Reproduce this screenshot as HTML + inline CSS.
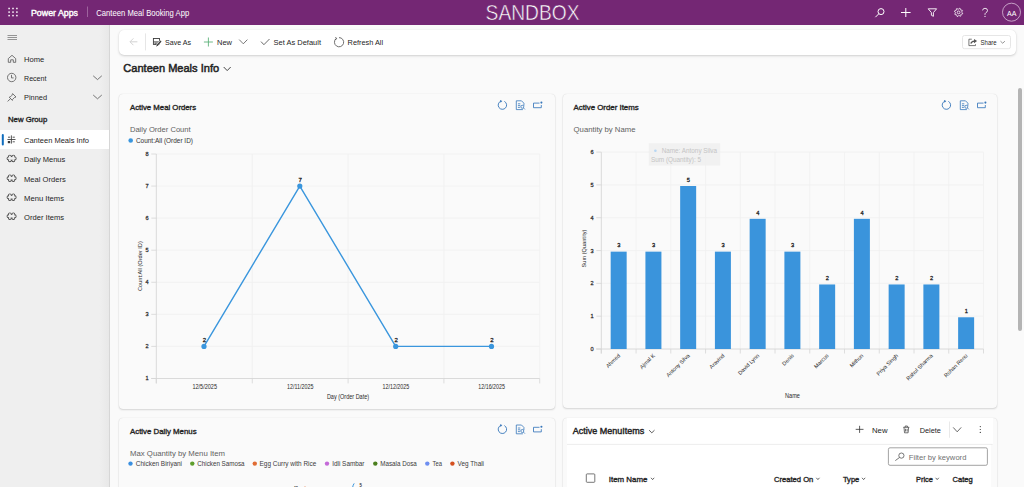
<!DOCTYPE html>
<html><head><meta charset="utf-8"><title>Canteen Meals Info</title>
<style>
html,body{margin:0;padding:0;width:1024px;height:487px;overflow:hidden;background:#fafafa;font-family:"Liberation Sans",sans-serif;}
.abs{position:absolute;box-sizing:border-box;}
#hdr{left:0;top:0;width:1024px;height:25px;background:#742774;}
#side{left:0;top:25px;width:110px;height:462px;background:linear-gradient(to right,#efefef 0,#efefef 99px,#e8e8e8 109px);border-right:1px solid #d6d6d6;}
#cmd{left:119px;top:29.5px;width:897px;height:25px;background:#fff;border-radius:5px;box-shadow:0 1px 2.5px rgba(0,0,0,0.17),0 0 1px rgba(0,0,0,0.10);}
.card{background:#fafafa;border-radius:4px;box-shadow:0 1px 2px rgba(0,0,0,0.14),0 0 1px rgba(0,0,0,0.16);}
svg{position:absolute;left:0;top:0;}
text{font-family:"Liberation Sans",sans-serif;}
</style></head><body>
<div class="abs" id="hdr"></div>
<div class="abs" id="side"></div>
<div class="abs" id="cmd"></div>
<div class="abs card" style="left:119px;top:94px;width:435.5px;height:314.5px;"></div>
<div class="abs card" style="left:563px;top:94px;width:434px;height:314px;"></div>
<div class="abs card" style="left:119px;top:418px;width:435.5px;height:80px;"></div>
<div class="abs card" style="left:563px;top:418px;width:434px;height:80px;"></div>
<div class="abs" style="left:567px;top:418px;width:426px;height:26px;background:#fff;"></div>
<div class="abs" style="left:567px;top:444px;width:424px;height:50px;background:#fff;"></div>
<div class="abs" style="left:1018px;top:87.5px;width:4px;height:243px;background:#b4b4b4;border-radius:2px;"></div>

<svg width="1024" height="487" viewBox="0 0 1024 487">
<rect x="8.35" y="7.75" width="1.5" height="1.5" fill="#ffffff"/>
<rect x="8.35" y="11.35" width="1.5" height="1.5" fill="#ffffff"/>
<rect x="8.35" y="14.85" width="1.5" height="1.5" fill="#ffffff"/>
<rect x="12.25" y="7.75" width="1.5" height="1.5" fill="#ffffff"/>
<rect x="12.25" y="11.35" width="1.5" height="1.5" fill="#ffffff"/>
<rect x="12.25" y="14.85" width="1.5" height="1.5" fill="#ffffff"/>
<rect x="16.15" y="7.75" width="1.5" height="1.5" fill="#ffffff"/>
<rect x="16.15" y="11.35" width="1.5" height="1.5" fill="#ffffff"/>
<rect x="16.15" y="14.85" width="1.5" height="1.5" fill="#ffffff"/>
<text x="31.00" y="15.60" font-size="8.8" fill="#ffffff" textLength="47.00" lengthAdjust="spacingAndGlyphs" stroke="#ffffff" stroke-width="0.396">Power Apps</text>
<rect x="87" y="6.5" width="0.8" height="10.5" fill="#a974a9"/>
<text x="96.30" y="15.90" font-size="8.4" fill="#ffffff" textLength="92.90" lengthAdjust="spacingAndGlyphs">Canteen Meal Booking App</text>
<text x="485.60" y="20.20" font-size="22.8" fill="#ffffff" textLength="94.00" lengthAdjust="spacingAndGlyphs" stroke="#742774" stroke-width="0.55">SANDBOX</text>
<g stroke="#fff" stroke-width="1" fill="none"><circle cx="881" cy="11.6" r="3"/><line x1="878.9" y1="13.7" x2="875.4" y2="17.2"/></g>
<g stroke="#fff" stroke-width="1"><line x1="905.8" y1="8" x2="905.8" y2="17"/><line x1="901" y1="12.5" x2="910.6" y2="12.5"/></g>
<path d="M928.2 8.8 L936.6 8.8 L933.4 12.6 L933.4 16.3 L931.4 15.3 L931.4 12.6 Z" stroke="#fff" stroke-width="0.9" fill="none" stroke-linejoin="round"/>
<path d="M962.72 13.23 L962.47 14.02 L961.25 14.19 L960.85 14.67 L960.92 15.90 L960.19 16.29 L959.21 15.54 L958.59 15.60 L957.77 16.52 L956.98 16.27 L956.81 15.05 L956.33 14.65 L955.10 14.72 L954.71 13.99 L955.46 13.01 L955.40 12.39 L954.48 11.57 L954.73 10.78 L955.95 10.61 L956.35 10.13 L956.28 8.90 L957.01 8.51 L957.99 9.26 L958.61 9.20 L959.43 8.28 L960.22 8.53 L960.39 9.75 L960.87 10.15 L962.10 10.08 L962.49 10.81 L961.74 11.79 L961.80 12.41 Z" stroke="#fff" stroke-width="0.8" fill="none" stroke-linejoin="round"/>
<circle cx="958.6" cy="12.4" r="1.4" stroke="#fff" stroke-width="0.8" fill="none"/>
<path d="M982.6 10.4 Q982.8 8.3 985 8.3 Q987.5 8.3 987.5 10.5 Q987.5 11.9 985.9 12.7 Q985 13.2 985 14.4 V14.9" stroke="#fff" stroke-width="0.85" fill="none"/><circle cx="985" cy="16.4" r="0.55" fill="#fff"/>
<circle cx="1011.5" cy="12.2" r="9" stroke="#d9bcd9" stroke-width="0.8" fill="none"/>
<text x="1007.10" y="15.70" font-size="7.6" fill="#ffffff" textLength="9.40" lengthAdjust="spacingAndGlyphs">AA</text>
<rect x="7.5" y="35.05" width="9.5" height="0.9" fill="#8a8a8a"/>
<rect x="7.5" y="37.05" width="9.5" height="0.9" fill="#8a8a8a"/>
<rect x="7.5" y="39.05" width="9.5" height="0.9" fill="#8a8a8a"/>
<path d="M8.3 62.3 V58.6 L12 55.3 L15.7 58.6 V62.3 H13.3 V59.8 H10.7 V62.3 Z" stroke="#555" stroke-width="0.8" fill="none" stroke-linejoin="round"/>
<text x="24.00" y="61.80" font-size="7.8" fill="#242424" textLength="20.20" lengthAdjust="spacingAndGlyphs">Home</text>
<g stroke="#555" stroke-width="0.8" fill="none"><circle cx="11.7" cy="77.5" r="4.2"/><path d="M11.5 74.9 V77.9 H13.6"/></g>
<text x="24.00" y="80.70" font-size="7.8" fill="#242424" textLength="22.50" lengthAdjust="spacingAndGlyphs">Recent</text>
<path d="M93.2 75.8 L97.5 79.6 L101.8 75.8" stroke="#555" stroke-width="0.8" fill="none"/>
<g stroke="#555" stroke-width="0.8" fill="none" stroke-linejoin="round"><path d="M12.6 93.6 L16 97 L14.4 97.6 L12.6 99.4 L12.4 100.4 L9.2 97.2 L10.2 97 L12 95.2 Z"/><line x1="10.6" y1="98.6" x2="7.6" y2="101.4"/></g>
<text x="24.00" y="99.80" font-size="7.8" fill="#242424" textLength="23.00" lengthAdjust="spacingAndGlyphs">Pinned</text>
<path d="M93.2 95 L97.5 98.8 L101.8 95" stroke="#555" stroke-width="0.8" fill="none"/>
<text x="8.00" y="121.60" font-size="7.2" fill="#242424" textLength="39.20" lengthAdjust="spacingAndGlyphs" stroke="#242424" stroke-width="0.324">New Group</text>
<rect x="0" y="130" width="109" height="19" fill="#ffffff"/>
<rect x="1.8" y="134" width="2" height="11.6" rx="1" fill="#0f6cbd"/>
<g stroke="#3a3a3a" stroke-width="0.85" fill="none"><line x1="11.4" y1="135.4" x2="11.4" y2="143.6"/><line x1="7.4" y1="139.5" x2="15.5" y2="139.5"/><line x1="8" y1="137.2" x2="10.2" y2="137.2"/><line x1="12.6" y1="137.2" x2="14.8" y2="137.2"/><line x1="12.6" y1="141.8" x2="14.8" y2="141.8"/></g><rect x="7.8" y="141" width="2.4" height="2.2" fill="#3a3a3a"/>
<text x="24.00" y="142.90" font-size="7.8" fill="#242424" textLength="65.00" lengthAdjust="spacingAndGlyphs">Canteen Meals Info</text>
<g fill="#4a4a4a" stroke="#4a4a4a" stroke-width="1.7"><circle cx="9.85" cy="156.60" r="1.05"/><circle cx="13.35" cy="156.60" r="1.05"/><circle cx="14.70" cy="158.40" r="1.05"/><circle cx="13.35" cy="160.25" r="1.05"/><circle cx="9.85" cy="160.25" r="1.05"/><circle cx="8.50" cy="158.40" r="1.05"/><rect x="9.00" y="157.05" width="5.2" height="2.7"/></g><g fill="#efefef"><circle cx="9.85" cy="156.60" r="1.05"/><circle cx="13.35" cy="156.60" r="1.05"/><circle cx="14.70" cy="158.40" r="1.05"/><circle cx="13.35" cy="160.25" r="1.05"/><circle cx="9.85" cy="160.25" r="1.05"/><circle cx="8.50" cy="158.40" r="1.05"/><rect x="9.00" y="157.05" width="5.2" height="2.7"/></g>
<text x="24.00" y="162.20" font-size="7.8" fill="#242424" textLength="41.30" lengthAdjust="spacingAndGlyphs">Daily Menus</text>
<g fill="#4a4a4a" stroke="#4a4a4a" stroke-width="1.7"><circle cx="9.85" cy="176.40" r="1.05"/><circle cx="13.35" cy="176.40" r="1.05"/><circle cx="14.70" cy="178.20" r="1.05"/><circle cx="13.35" cy="180.05" r="1.05"/><circle cx="9.85" cy="180.05" r="1.05"/><circle cx="8.50" cy="178.20" r="1.05"/><rect x="9.00" y="176.85" width="5.2" height="2.7"/></g><g fill="#efefef"><circle cx="9.85" cy="176.40" r="1.05"/><circle cx="13.35" cy="176.40" r="1.05"/><circle cx="14.70" cy="178.20" r="1.05"/><circle cx="13.35" cy="180.05" r="1.05"/><circle cx="9.85" cy="180.05" r="1.05"/><circle cx="8.50" cy="178.20" r="1.05"/><rect x="9.00" y="176.85" width="5.2" height="2.7"/></g>
<text x="24.00" y="182.00" font-size="7.8" fill="#242424" textLength="41.70" lengthAdjust="spacingAndGlyphs">Meal Orders</text>
<g fill="#4a4a4a" stroke="#4a4a4a" stroke-width="1.7"><circle cx="9.85" cy="195.40" r="1.05"/><circle cx="13.35" cy="195.40" r="1.05"/><circle cx="14.70" cy="197.20" r="1.05"/><circle cx="13.35" cy="199.05" r="1.05"/><circle cx="9.85" cy="199.05" r="1.05"/><circle cx="8.50" cy="197.20" r="1.05"/><rect x="9.00" y="195.85" width="5.2" height="2.7"/></g><g fill="#efefef"><circle cx="9.85" cy="195.40" r="1.05"/><circle cx="13.35" cy="195.40" r="1.05"/><circle cx="14.70" cy="197.20" r="1.05"/><circle cx="13.35" cy="199.05" r="1.05"/><circle cx="9.85" cy="199.05" r="1.05"/><circle cx="8.50" cy="197.20" r="1.05"/><rect x="9.00" y="195.85" width="5.2" height="2.7"/></g>
<text x="24.00" y="201.00" font-size="7.8" fill="#242424" textLength="40.10" lengthAdjust="spacingAndGlyphs">Menu Items</text>
<g fill="#4a4a4a" stroke="#4a4a4a" stroke-width="1.7"><circle cx="9.85" cy="214.40" r="1.05"/><circle cx="13.35" cy="214.40" r="1.05"/><circle cx="14.70" cy="216.20" r="1.05"/><circle cx="13.35" cy="218.05" r="1.05"/><circle cx="9.85" cy="218.05" r="1.05"/><circle cx="8.50" cy="216.20" r="1.05"/><rect x="9.00" y="214.85" width="5.2" height="2.7"/></g><g fill="#efefef"><circle cx="9.85" cy="214.40" r="1.05"/><circle cx="13.35" cy="214.40" r="1.05"/><circle cx="14.70" cy="216.20" r="1.05"/><circle cx="13.35" cy="218.05" r="1.05"/><circle cx="9.85" cy="218.05" r="1.05"/><circle cx="8.50" cy="216.20" r="1.05"/><rect x="9.00" y="214.85" width="5.2" height="2.7"/></g>
<text x="24.00" y="220.00" font-size="7.8" fill="#242424" textLength="40.10" lengthAdjust="spacingAndGlyphs">Order Items</text>
<path d="M137.4 41.8 H130.2 M133.4 38.4 L130 41.8 L133.4 45.2" stroke="#c8c8c8" stroke-width="0.8" fill="none"/>
<rect x="145" y="33.4" width="0.8" height="17" fill="#e0e0e0"/>
<g fill="none" stroke="#3c3c3c"><rect x="153.4" y="38.5" width="6.1" height="5.9" stroke-width="0.9"/><line x1="153.4" y1="41.9" x2="159.5" y2="41.9" stroke-width="0.9"/><rect x="154.9" y="43" width="3.2" height="1" stroke-width="0.6"/></g>
<line x1="160.7" y1="41.3" x2="157.2" y2="45.3" stroke="#fff" stroke-width="2.6"/><line x1="160.6" y1="41.4" x2="157.3" y2="45.2" stroke="#404040" stroke-width="1.5" stroke-linecap="round"/><circle cx="156.5" cy="46.1" r="0.5" fill="#777"/>
<text x="165.00" y="45.10" font-size="7.4" fill="#242424" textLength="26.00" lengthAdjust="spacingAndGlyphs">Save As</text>
<g stroke="#5eb27a" stroke-width="0.9"><line x1="208.4" y1="37.5" x2="208.4" y2="46.5"/><line x1="203.9" y1="42" x2="212.9" y2="42"/></g>
<text x="217.00" y="45.10" font-size="7.4" fill="#242424" textLength="15.00" lengthAdjust="spacingAndGlyphs">New</text>
<path d="M239.2 39.6 L243.3 43.8 L247.4 39.6" stroke="#555" stroke-width="0.8" fill="none"/>
<path d="M261 41.6 L263.9 44.7 L269.5 39" stroke="#444" stroke-width="0.8" fill="none"/>
<text x="273.60" y="45.10" font-size="7.4" fill="#242424" textLength="47.40" lengthAdjust="spacingAndGlyphs">Set As Default</text>
<path d="M336.2 38.6 A4.6 4.6 0 1 0 339 37.6" stroke="#555" stroke-width="0.85" fill="none"/><path d="M335.4 37 L336.8 38.8 L334.8 39.6" stroke="#555" stroke-width="0.8" fill="none"/>
<text x="347.60" y="45.00" font-size="7.4" fill="#242424" textLength="35.50" lengthAdjust="spacingAndGlyphs">Refresh All</text>
<rect x="962.5" y="35.5" width="48" height="13.2" rx="2" fill="#fff" stroke="#e0e0e0" stroke-width="0.8"/>
<g stroke="#555" stroke-width="0.8" fill="none"><path d="M971.8 39.2 H968.9 V45.6 H975.5 V44.2"/><path d="M970.9 43.6 Q971.2 41.4 974.4 41.1" stroke-width="1.1"/></g><path d="M974 38.9 L977.1 41.1 L974 43.3 Z" fill="#555"/>
<text x="980.60" y="44.70" font-size="6.5" fill="#242424" textLength="16.00" lengthAdjust="spacingAndGlyphs">Share</text>
<path d="M1000.5 41.2 L1002.7 43.2 L1004.9 41.2" stroke="#666" stroke-width="0.7" fill="none"/>
<text x="123.30" y="71.80" font-size="11.4" fill="#242424" textLength="95.80" lengthAdjust="spacingAndGlyphs" stroke="#242424" stroke-width="0.513">Canteen Meals Info</text>
<path d="M223.7 67 L227.2 70.6 L230.7 67" stroke="#333" stroke-width="0.9" fill="none"/>
<text x="130.00" y="110.00" font-size="7.3" fill="#242424" textLength="66.10" lengthAdjust="spacingAndGlyphs" stroke="#242424" stroke-width="0.328">Active Meal Orders</text>
<path d="M504.37 101.39 A4.2 4.2 0 1 1 500.83 101.21" stroke="#3676ba" stroke-width="0.9" fill="none"/><path d="M499.93 100.11 L502.33 100.91 L500.53 102.71 Z" fill="#3676ba"/>
<g stroke="#3676ba" stroke-width="0.8" fill="none"><path d="M521.5 100.8 H516.3 V109.6 H522.9"/><path d="M521.5 100.8 L523.9 103.2 V105.8"/><line x1="517.9" y1="103.8" x2="520.3" y2="103.8"/><line x1="517.9" y1="105.6" x2="520.3" y2="105.6"/><line x1="517.9" y1="107.39999999999999" x2="519.9" y2="107.39999999999999"/><circle cx="522.3" cy="106.8" r="1.5"/><line x1="523.4" y1="107.89999999999999" x2="524.9" y2="109.39999999999999"/></g>
<path d="M539.5 103.1 H533.5 V107.7 H541.3000000000001 V105.0" stroke="#3676ba" stroke-width="0.85" fill="none"/><circle cx="541.4" cy="102.6" r="1.05" fill="#3676ba"/>
<text x="129.90" y="131.90" font-size="7.9" fill="#616161" textLength="60.80" lengthAdjust="spacingAndGlyphs">Daily Order Count</text>
<circle cx="130.7" cy="140.5" r="2.3" fill="#3a96dd"/>
<text x="135.90" y="142.70" font-size="6.6" fill="#333333" textLength="57.10" lengthAdjust="spacingAndGlyphs">Count:All (Order ID)</text>
<line x1="156.3" y1="346.42" x2="539.7" y2="346.42" stroke="#f0f0f0" stroke-width="0.8"/>
<line x1="156.3" y1="314.35" x2="539.7" y2="314.35" stroke="#f0f0f0" stroke-width="0.8"/>
<line x1="156.3" y1="282.28" x2="539.7" y2="282.28" stroke="#f0f0f0" stroke-width="0.8"/>
<line x1="156.3" y1="250.21" x2="539.7" y2="250.21" stroke="#f0f0f0" stroke-width="0.8"/>
<line x1="156.3" y1="218.14" x2="539.7" y2="218.14" stroke="#f0f0f0" stroke-width="0.8"/>
<line x1="156.3" y1="186.07" x2="539.7" y2="186.07" stroke="#f0f0f0" stroke-width="0.8"/>
<line x1="156.3" y1="154.00" x2="539.7" y2="154.00" stroke="#f0f0f0" stroke-width="0.8"/>
<line x1="252.3" y1="154" x2="252.3" y2="378.5" stroke="#f0f0f0" stroke-width="0.8"/>
<line x1="348.1" y1="154" x2="348.1" y2="378.5" stroke="#f0f0f0" stroke-width="0.8"/>
<line x1="443.9" y1="154" x2="443.9" y2="378.5" stroke="#f0f0f0" stroke-width="0.8"/>
<line x1="539.7" y1="154" x2="539.7" y2="378.5" stroke="#f0f0f0" stroke-width="0.8"/>
<line x1="156.3" y1="154" x2="156.3" y2="383.4" stroke="#d6d6d6" stroke-width="0.9"/>
<line x1="151.3" y1="378.5" x2="539.7" y2="378.5" stroke="#d6d6d6" stroke-width="0.9"/>
<line x1="151.3" y1="378.49" x2="156.3" y2="378.49" stroke="#d6d6d6" stroke-width="0.8"/>
<text x="148.60" y="380.49" font-size="5.6" fill="#333" text-anchor="end" stroke="#333" stroke-width="0.252">1</text>
<line x1="151.3" y1="346.42" x2="156.3" y2="346.42" stroke="#d6d6d6" stroke-width="0.8"/>
<text x="148.60" y="348.42" font-size="5.6" fill="#333" text-anchor="end" stroke="#333" stroke-width="0.252">2</text>
<line x1="151.3" y1="314.35" x2="156.3" y2="314.35" stroke="#d6d6d6" stroke-width="0.8"/>
<text x="148.60" y="316.35" font-size="5.6" fill="#333" text-anchor="end" stroke="#333" stroke-width="0.252">3</text>
<line x1="151.3" y1="282.28" x2="156.3" y2="282.28" stroke="#d6d6d6" stroke-width="0.8"/>
<text x="148.60" y="284.28" font-size="5.6" fill="#333" text-anchor="end" stroke="#333" stroke-width="0.252">4</text>
<line x1="151.3" y1="250.21" x2="156.3" y2="250.21" stroke="#d6d6d6" stroke-width="0.8"/>
<text x="148.60" y="252.21" font-size="5.6" fill="#333" text-anchor="end" stroke="#333" stroke-width="0.252">5</text>
<line x1="151.3" y1="218.14" x2="156.3" y2="218.14" stroke="#d6d6d6" stroke-width="0.8"/>
<text x="148.60" y="220.14" font-size="5.6" fill="#333" text-anchor="end" stroke="#333" stroke-width="0.252">6</text>
<line x1="151.3" y1="186.07" x2="156.3" y2="186.07" stroke="#d6d6d6" stroke-width="0.8"/>
<text x="148.60" y="188.07" font-size="5.6" fill="#333" text-anchor="end" stroke="#333" stroke-width="0.252">7</text>
<line x1="151.3" y1="154.00" x2="156.3" y2="154.00" stroke="#d6d6d6" stroke-width="0.8"/>
<text x="148.60" y="156.00" font-size="5.6" fill="#333" text-anchor="end" stroke="#333" stroke-width="0.252">8</text>
<line x1="156.3" y1="378.5" x2="156.3" y2="383.4" stroke="#d6d6d6" stroke-width="0.8"/>
<line x1="252.3" y1="378.5" x2="252.3" y2="383.4" stroke="#d6d6d6" stroke-width="0.8"/>
<line x1="348.1" y1="378.5" x2="348.1" y2="383.4" stroke="#d6d6d6" stroke-width="0.8"/>
<line x1="443.9" y1="378.5" x2="443.9" y2="383.4" stroke="#d6d6d6" stroke-width="0.8"/>
<line x1="539.7" y1="378.5" x2="539.7" y2="383.4" stroke="#d6d6d6" stroke-width="0.8"/>
<text x="192.40" y="388.50" font-size="6.5" fill="#2a2a2a" textLength="24.60" lengthAdjust="spacingAndGlyphs">12/5/2025</text>
<text x="287.10" y="388.50" font-size="6.5" fill="#2a2a2a" textLength="26.40" lengthAdjust="spacingAndGlyphs">12/11/2025</text>
<text x="382.55" y="388.50" font-size="6.5" fill="#2a2a2a" textLength="26.70" lengthAdjust="spacingAndGlyphs">12/12/2025</text>
<text x="478.25" y="388.50" font-size="6.5" fill="#2a2a2a" textLength="26.70" lengthAdjust="spacingAndGlyphs">12/16/2025</text>
<text x="326.90" y="399.00" font-size="6.5" fill="#2a2a2a" textLength="42.20" lengthAdjust="spacingAndGlyphs">Day (Order Date)</text>
<text x="0" y="0" font-size="6.0" fill="#2a2a2a" textLength="49.8" lengthAdjust="spacingAndGlyphs" transform="translate(141.7 291) rotate(-90)">Count:All (Order ID)</text>
<polyline points="204.0,346.42 299.8,186.07 395.7,346.42 491.5,346.42" stroke="#3a96dd" stroke-width="1.4" fill="none" stroke-linejoin="round"/>
<circle cx="204.0" cy="346.42" r="2.6" fill="#3a96dd"/>
<text x="202.80" y="342.22" font-size="5.8" fill="#222" textLength="3.40" lengthAdjust="spacingAndGlyphs" stroke="#222" stroke-width="0.261">2</text>
<circle cx="299.8" cy="186.07" r="2.6" fill="#3a96dd"/>
<text x="298.60" y="181.87" font-size="5.8" fill="#222" textLength="3.40" lengthAdjust="spacingAndGlyphs" stroke="#222" stroke-width="0.261">7</text>
<circle cx="395.7" cy="346.42" r="2.6" fill="#3a96dd"/>
<text x="394.50" y="342.22" font-size="5.8" fill="#222" textLength="3.40" lengthAdjust="spacingAndGlyphs" stroke="#222" stroke-width="0.261">2</text>
<circle cx="491.5" cy="346.42" r="2.6" fill="#3a96dd"/>
<text x="490.30" y="342.22" font-size="5.8" fill="#222" textLength="3.40" lengthAdjust="spacingAndGlyphs" stroke="#222" stroke-width="0.261">2</text>
<text x="573.60" y="110.00" font-size="7.3" fill="#242424" textLength="65.10" lengthAdjust="spacingAndGlyphs" stroke="#242424" stroke-width="0.328">Active Order Items</text>
<path d="M948.37 101.39 A4.2 4.2 0 1 1 944.83 101.21" stroke="#3676ba" stroke-width="0.9" fill="none"/><path d="M943.93 100.11 L946.33 100.91 L944.53 102.71 Z" fill="#3676ba"/>
<g stroke="#3676ba" stroke-width="0.8" fill="none"><path d="M965.5 100.8 H960.3 V109.6 H966.9"/><path d="M965.5 100.8 L967.9 103.2 V105.8"/><line x1="961.9" y1="103.8" x2="964.3" y2="103.8"/><line x1="961.9" y1="105.6" x2="964.3" y2="105.6"/><line x1="961.9" y1="107.39999999999999" x2="963.9" y2="107.39999999999999"/><circle cx="966.3" cy="106.8" r="1.5"/><line x1="967.4" y1="107.89999999999999" x2="968.9" y2="109.39999999999999"/></g>
<path d="M983.5 103.1 H977.5 V107.7 H985.3000000000001 V105.0" stroke="#3676ba" stroke-width="0.85" fill="none"/><circle cx="985.4" cy="102.6" r="1.05" fill="#3676ba"/>
<text x="573.60" y="131.90" font-size="7.9" fill="#616161" textLength="61.90" lengthAdjust="spacingAndGlyphs">Quantity by Name</text>
<line x1="601.3" y1="316.18" x2="983.5" y2="316.18" stroke="#f0f0f0" stroke-width="0.8"/>
<line x1="601.3" y1="283.36" x2="983.5" y2="283.36" stroke="#f0f0f0" stroke-width="0.8"/>
<line x1="601.3" y1="250.54" x2="983.5" y2="250.54" stroke="#f0f0f0" stroke-width="0.8"/>
<line x1="601.3" y1="217.72" x2="983.5" y2="217.72" stroke="#f0f0f0" stroke-width="0.8"/>
<line x1="601.3" y1="184.90" x2="983.5" y2="184.90" stroke="#f0f0f0" stroke-width="0.8"/>
<line x1="601.3" y1="152.08" x2="983.5" y2="152.08" stroke="#f0f0f0" stroke-width="0.8"/>
<line x1="636.05" y1="152.1" x2="636.05" y2="349" stroke="#f0f0f0" stroke-width="0.8"/>
<line x1="670.79" y1="152.1" x2="670.79" y2="349" stroke="#f0f0f0" stroke-width="0.8"/>
<line x1="705.54" y1="152.1" x2="705.54" y2="349" stroke="#f0f0f0" stroke-width="0.8"/>
<line x1="740.28" y1="152.1" x2="740.28" y2="349" stroke="#f0f0f0" stroke-width="0.8"/>
<line x1="775.03" y1="152.1" x2="775.03" y2="349" stroke="#f0f0f0" stroke-width="0.8"/>
<line x1="809.77" y1="152.1" x2="809.77" y2="349" stroke="#f0f0f0" stroke-width="0.8"/>
<line x1="844.52" y1="152.1" x2="844.52" y2="349" stroke="#f0f0f0" stroke-width="0.8"/>
<line x1="879.26" y1="152.1" x2="879.26" y2="349" stroke="#f0f0f0" stroke-width="0.8"/>
<line x1="914.01" y1="152.1" x2="914.01" y2="349" stroke="#f0f0f0" stroke-width="0.8"/>
<line x1="948.75" y1="152.1" x2="948.75" y2="349" stroke="#f0f0f0" stroke-width="0.8"/>
<line x1="983.50" y1="152.1" x2="983.50" y2="349" stroke="#f0f0f0" stroke-width="0.8"/>
<line x1="601.3" y1="152.1" x2="601.3" y2="353.5" stroke="#d6d6d6" stroke-width="0.9"/>
<line x1="596.3" y1="349" x2="983.5" y2="349" stroke="#d6d6d6" stroke-width="0.9"/>
<line x1="596.3" y1="349.00" x2="601.3" y2="349.00" stroke="#d6d6d6" stroke-width="0.8"/>
<text x="593.60" y="351.00" font-size="5.6" fill="#333" text-anchor="end" stroke="#333" stroke-width="0.252">0</text>
<line x1="596.3" y1="316.18" x2="601.3" y2="316.18" stroke="#d6d6d6" stroke-width="0.8"/>
<text x="593.60" y="318.18" font-size="5.6" fill="#333" text-anchor="end" stroke="#333" stroke-width="0.252">1</text>
<line x1="596.3" y1="283.36" x2="601.3" y2="283.36" stroke="#d6d6d6" stroke-width="0.8"/>
<text x="593.60" y="285.36" font-size="5.6" fill="#333" text-anchor="end" stroke="#333" stroke-width="0.252">2</text>
<line x1="596.3" y1="250.54" x2="601.3" y2="250.54" stroke="#d6d6d6" stroke-width="0.8"/>
<text x="593.60" y="252.54" font-size="5.6" fill="#333" text-anchor="end" stroke="#333" stroke-width="0.252">3</text>
<line x1="596.3" y1="217.72" x2="601.3" y2="217.72" stroke="#d6d6d6" stroke-width="0.8"/>
<text x="593.60" y="219.72" font-size="5.6" fill="#333" text-anchor="end" stroke="#333" stroke-width="0.252">4</text>
<line x1="596.3" y1="184.90" x2="601.3" y2="184.90" stroke="#d6d6d6" stroke-width="0.8"/>
<text x="593.60" y="186.90" font-size="5.6" fill="#333" text-anchor="end" stroke="#333" stroke-width="0.252">5</text>
<line x1="596.3" y1="152.08" x2="601.3" y2="152.08" stroke="#d6d6d6" stroke-width="0.8"/>
<text x="593.60" y="154.08" font-size="5.6" fill="#333" text-anchor="end" stroke="#333" stroke-width="0.252">6</text>
<line x1="601.30" y1="349" x2="601.30" y2="353.5" stroke="#d6d6d6" stroke-width="0.8"/>
<line x1="636.05" y1="349" x2="636.05" y2="353.5" stroke="#d6d6d6" stroke-width="0.8"/>
<line x1="670.79" y1="349" x2="670.79" y2="353.5" stroke="#d6d6d6" stroke-width="0.8"/>
<line x1="705.54" y1="349" x2="705.54" y2="353.5" stroke="#d6d6d6" stroke-width="0.8"/>
<line x1="740.28" y1="349" x2="740.28" y2="353.5" stroke="#d6d6d6" stroke-width="0.8"/>
<line x1="775.03" y1="349" x2="775.03" y2="353.5" stroke="#d6d6d6" stroke-width="0.8"/>
<line x1="809.77" y1="349" x2="809.77" y2="353.5" stroke="#d6d6d6" stroke-width="0.8"/>
<line x1="844.52" y1="349" x2="844.52" y2="353.5" stroke="#d6d6d6" stroke-width="0.8"/>
<line x1="879.26" y1="349" x2="879.26" y2="353.5" stroke="#d6d6d6" stroke-width="0.8"/>
<line x1="914.01" y1="349" x2="914.01" y2="353.5" stroke="#d6d6d6" stroke-width="0.8"/>
<line x1="948.75" y1="349" x2="948.75" y2="353.5" stroke="#d6d6d6" stroke-width="0.8"/>
<line x1="983.50" y1="349" x2="983.50" y2="353.5" stroke="#d6d6d6" stroke-width="0.8"/>
<rect x="610.67" y="251.64" width="16" height="97.36" fill="#3a94dc"/>
<text x="617.17" y="247.34" font-size="5.8" fill="#222" textLength="3.20" lengthAdjust="spacingAndGlyphs" stroke="#222" stroke-width="0.261">3</text>
<text x="0" y="0" font-size="5.5" fill="#2a2a2a" text-anchor="end" transform="translate(620.57 356.0) rotate(-45)">Ahmed</text>
<rect x="645.42" y="251.64" width="16" height="97.36" fill="#3a94dc"/>
<text x="651.92" y="247.34" font-size="5.8" fill="#222" textLength="3.20" lengthAdjust="spacingAndGlyphs" stroke="#222" stroke-width="0.261">3</text>
<text x="0" y="0" font-size="5.5" fill="#2a2a2a" text-anchor="end" transform="translate(655.32 356.0) rotate(-45)">Ajmal K</text>
<rect x="680.16" y="186.00" width="16" height="163.00" fill="#3a94dc"/>
<text x="686.66" y="181.70" font-size="5.8" fill="#222" textLength="3.20" lengthAdjust="spacingAndGlyphs" stroke="#222" stroke-width="0.261">5</text>
<text x="0" y="0" font-size="5.5" fill="#2a2a2a" text-anchor="end" transform="translate(690.06 356.0) rotate(-45)">Antony Silva</text>
<rect x="714.91" y="251.64" width="16" height="97.36" fill="#3a94dc"/>
<text x="721.41" y="247.34" font-size="5.8" fill="#222" textLength="3.20" lengthAdjust="spacingAndGlyphs" stroke="#222" stroke-width="0.261">3</text>
<text x="0" y="0" font-size="5.5" fill="#2a2a2a" text-anchor="end" transform="translate(724.81 356.0) rotate(-45)">Aravind</text>
<rect x="749.65" y="218.82" width="16" height="130.18" fill="#3a94dc"/>
<text x="756.15" y="214.52" font-size="5.8" fill="#222" textLength="3.20" lengthAdjust="spacingAndGlyphs" stroke="#222" stroke-width="0.261">4</text>
<text x="0" y="0" font-size="5.5" fill="#2a2a2a" text-anchor="end" transform="translate(759.55 356.0) rotate(-45)">David Lynn</text>
<rect x="784.40" y="251.64" width="16" height="97.36" fill="#3a94dc"/>
<text x="790.90" y="247.34" font-size="5.8" fill="#222" textLength="3.20" lengthAdjust="spacingAndGlyphs" stroke="#222" stroke-width="0.261">3</text>
<text x="0" y="0" font-size="5.5" fill="#2a2a2a" text-anchor="end" transform="translate(794.30 356.0) rotate(-45)">Denis</text>
<rect x="819.15" y="284.46" width="16" height="64.54" fill="#3a94dc"/>
<text x="825.65" y="280.16" font-size="5.8" fill="#222" textLength="3.20" lengthAdjust="spacingAndGlyphs" stroke="#222" stroke-width="0.261">2</text>
<text x="0" y="0" font-size="5.5" fill="#2a2a2a" text-anchor="end" transform="translate(829.05 356.0) rotate(-45)">Marcus</text>
<rect x="853.89" y="218.82" width="16" height="130.18" fill="#3a94dc"/>
<text x="860.39" y="214.52" font-size="5.8" fill="#222" textLength="3.20" lengthAdjust="spacingAndGlyphs" stroke="#222" stroke-width="0.261">4</text>
<text x="0" y="0" font-size="5.5" fill="#2a2a2a" text-anchor="end" transform="translate(863.79 356.0) rotate(-45)">Mithun</text>
<rect x="888.64" y="284.46" width="16" height="64.54" fill="#3a94dc"/>
<text x="895.14" y="280.16" font-size="5.8" fill="#222" textLength="3.20" lengthAdjust="spacingAndGlyphs" stroke="#222" stroke-width="0.261">2</text>
<text x="0" y="0" font-size="5.5" fill="#2a2a2a" text-anchor="end" transform="translate(898.54 356.0) rotate(-45)">Priya Singh</text>
<rect x="923.38" y="284.46" width="16" height="64.54" fill="#3a94dc"/>
<text x="929.88" y="280.16" font-size="5.8" fill="#222" textLength="3.20" lengthAdjust="spacingAndGlyphs" stroke="#222" stroke-width="0.261">2</text>
<text x="0" y="0" font-size="5.5" fill="#2a2a2a" text-anchor="end" transform="translate(933.28 356.0) rotate(-45)">Rahul Sharma</text>
<rect x="958.13" y="317.28" width="16" height="31.72" fill="#3a94dc"/>
<text x="964.63" y="312.98" font-size="5.8" fill="#222" textLength="3.20" lengthAdjust="spacingAndGlyphs" stroke="#222" stroke-width="0.261">1</text>
<text x="0" y="0" font-size="5.5" fill="#2a2a2a" text-anchor="end" transform="translate(968.03 356.0) rotate(-45)">Rohan Renu</text>
<text x="785.00" y="398.40" font-size="6.6" fill="#2a2a2a" textLength="14.90" lengthAdjust="spacingAndGlyphs">Name</text>
<rect x="648.8" y="143.3" width="71.3" height="22.2" fill="#efefef" fill-opacity="0.9"/>
<circle cx="655.4" cy="150.8" r="1.3" fill="#b7d7f4"/>
<text x="661.70" y="153.00" font-size="6.8" fill="#c4c4c4" textLength="55.40" lengthAdjust="spacingAndGlyphs">Name: Antony Silva</text>
<text x="651.00" y="161.60" font-size="6.8" fill="#c4c4c4" textLength="50.00" lengthAdjust="spacingAndGlyphs">Sum (Quantity): 5</text>
<text x="0" y="0" font-size="6.0" fill="#2a2a2a" textLength="37.8" lengthAdjust="spacingAndGlyphs" transform="translate(586.2 267.4) rotate(-90)">Sum (Quantity)</text>
<text x="130.00" y="434.20" font-size="7.3" fill="#242424" textLength="66.60" lengthAdjust="spacingAndGlyphs" stroke="#242424" stroke-width="0.328">Active Daily Menus</text>
<path d="M504.37 425.59 A4.2 4.2 0 1 1 500.83 425.41" stroke="#3676ba" stroke-width="0.9" fill="none"/><path d="M499.93 424.31 L502.33 425.11 L500.53 426.91 Z" fill="#3676ba"/>
<g stroke="#3676ba" stroke-width="0.8" fill="none"><path d="M521.5 425 H516.3 V433.8 H522.9"/><path d="M521.5 425 L523.9 427.4 V430"/><line x1="517.9" y1="428" x2="520.3" y2="428"/><line x1="517.9" y1="429.8" x2="520.3" y2="429.8"/><line x1="517.9" y1="431.6" x2="519.9" y2="431.6"/><circle cx="522.3" cy="431" r="1.5"/><line x1="523.4" y1="432.1" x2="524.9" y2="433.6"/></g>
<path d="M539.5 427.3 H533.5 V431.9 H541.3000000000001 V429.2" stroke="#3676ba" stroke-width="0.85" fill="none"/><circle cx="541.4" cy="426.8" r="1.05" fill="#3676ba"/>
<text x="130.00" y="456.10" font-size="7.9" fill="#616161" textLength="95.00" lengthAdjust="spacingAndGlyphs">Max Quantity by Menu Item</text>
<circle cx="130.5" cy="463.6" r="2.2" fill="#3a8fe0"/>
<text x="135.80" y="466.00" font-size="6.8" fill="#3a3a3a" textLength="46.20" lengthAdjust="spacingAndGlyphs">Chicken Biriyani</text>
<circle cx="192.3" cy="463.6" r="2.2" fill="#5e9e2c"/>
<text x="197.30" y="466.00" font-size="6.8" fill="#3a3a3a" textLength="47.20" lengthAdjust="spacingAndGlyphs">Chicken Samosa</text>
<circle cx="254.8" cy="463.6" r="2.2" fill="#e06c34"/>
<text x="259.60" y="466.00" font-size="6.8" fill="#3a3a3a" textLength="56.70" lengthAdjust="spacingAndGlyphs">Egg Curry with Rice</text>
<circle cx="327" cy="463.6" r="2.2" fill="#c46ad8"/>
<text x="332.20" y="466.00" font-size="6.8" fill="#3a3a3a" textLength="32.30" lengthAdjust="spacingAndGlyphs">Idli Sambar</text>
<circle cx="375.3" cy="463.6" r="2.2" fill="#4a7f1e"/>
<text x="380.20" y="466.00" font-size="6.8" fill="#3a3a3a" textLength="36.60" lengthAdjust="spacingAndGlyphs">Masala Dosa</text>
<circle cx="427.3" cy="463.6" r="2.2" fill="#6e8ef0"/>
<text x="432.50" y="466.00" font-size="6.8" fill="#3a3a3a" textLength="9.40" lengthAdjust="spacingAndGlyphs">Tea</text>
<circle cx="452.4" cy="463.6" r="2.2" fill="#d4501f"/>
<text x="457.60" y="466.00" font-size="6.8" fill="#3a3a3a" textLength="26.40" lengthAdjust="spacingAndGlyphs">Veg Thali</text>
<text x="293.50" y="489.50" font-size="5.6" font-weight="700" fill="#333" textLength="4.60" lengthAdjust="spacingAndGlyphs">40</text>
<text x="359.50" y="487.30" font-size="5.6" font-weight="700" fill="#333" textLength="2.40" lengthAdjust="spacingAndGlyphs">5</text>
<path d="M352.6 487.5 Q353 485 354.2 483.4" stroke="#3a96dd" stroke-width="1" fill="none"/>
<circle cx="305" cy="487.5" r="1" fill="#e06c34"/>
<text x="572.80" y="433.90" font-size="9.6" fill="#242424" textLength="71.50" lengthAdjust="spacingAndGlyphs" stroke="#242424" stroke-width="0.432">Active MenuItems</text>
<path d="M649.1 430.2 L651.8 432.8 L654.5 430.2" stroke="#333" stroke-width="0.8" fill="none"/>
<g stroke="#333" stroke-width="0.8"><line x1="859.6" y1="425.8" x2="859.6" y2="432.9"/><line x1="855.7" y1="429.35" x2="863.5" y2="429.35"/></g>
<text x="872.00" y="432.60" font-size="8" fill="#242424" textLength="15.50" lengthAdjust="spacingAndGlyphs">New</text>
<g stroke="#444" stroke-width="0.75" fill="none"><path d="M903.3 427.3 H909.3"/><path d="M905.2 427.3 V426 H907.4 V427.3"/><path d="M904 427.3 L904.5 432.8 H908.1 L908.6 427.3"/><line x1="905.5" y1="428.8" x2="905.5" y2="431.5"/><line x1="907.1" y1="428.8" x2="907.1" y2="431.5"/></g>
<text x="919.70" y="432.60" font-size="8" fill="#242424" textLength="21.20" lengthAdjust="spacingAndGlyphs">Delete</text>
<rect x="949.3" y="421.5" width="0.7" height="16.3" fill="#e0e0e0"/>
<path d="M953.2 427.4 L957.2 431.8 L961.2 427.4" stroke="#444" stroke-width="0.8" fill="none"/>
<circle cx="980.3" cy="426.6" r="0.6" fill="#333"/>
<circle cx="980.3" cy="429.5" r="0.6" fill="#333"/>
<circle cx="980.3" cy="432.4" r="0.6" fill="#333"/>
<rect x="567" y="443.9" width="425.5" height="0.7" fill="#e4e4e4"/>
<rect x="888.4" y="447.8" width="99" height="17.5" rx="1.6" fill="#fff" stroke="#8c8c8c" stroke-width="0.8"/>
<g stroke="#555" stroke-width="0.8" fill="none"><circle cx="901.4" cy="455.6" r="2.6"/><line x1="899.5" y1="457.5" x2="895.3" y2="460.6"/></g>
<text x="908.80" y="459.80" font-size="8" fill="#707070" textLength="57.60" lengthAdjust="spacingAndGlyphs">Filter by keyword</text>
<rect x="586.3" y="473.9" width="8.5" height="8.4" rx="0.8" fill="#fff" stroke="#555" stroke-width="0.8"/>
<text x="608.80" y="481.50" font-size="7.9" fill="#242424" textLength="38.60" lengthAdjust="spacingAndGlyphs" stroke="#242424" stroke-width="0.355">Item Name</text>
<path d="M651 477.8 L652.6 479.6 L654.2 477.8" stroke="#333" stroke-width="0.75" fill="none"/>
<text x="774.00" y="481.60" font-size="7.9" fill="#242424" textLength="39.30" lengthAdjust="spacingAndGlyphs" stroke="#242424" stroke-width="0.355">Created On</text>
<path d="M816.3 477.8 L817.9 479.6 L819.5 477.8" stroke="#333" stroke-width="0.75" fill="none"/>
<text x="842.90" y="481.60" font-size="7.9" fill="#242424" textLength="16.40" lengthAdjust="spacingAndGlyphs" stroke="#242424" stroke-width="0.355">Type</text>
<path d="M862 477.8 L863.6 479.6 L865.2 477.8" stroke="#333" stroke-width="0.75" fill="none"/>
<text x="916.00" y="481.60" font-size="7.9" fill="#242424" textLength="17.00" lengthAdjust="spacingAndGlyphs" stroke="#242424" stroke-width="0.355">Price</text>
<path d="M935.6 477.8 L937.2 479.6 L938.8000000000001 477.8" stroke="#333" stroke-width="0.75" fill="none"/>
<text x="952.60" y="481.60" font-size="7.9" fill="#242424" textLength="20.20" lengthAdjust="spacingAndGlyphs" stroke="#242424" stroke-width="0.355">Categ</text>
</svg>
</body></html>
